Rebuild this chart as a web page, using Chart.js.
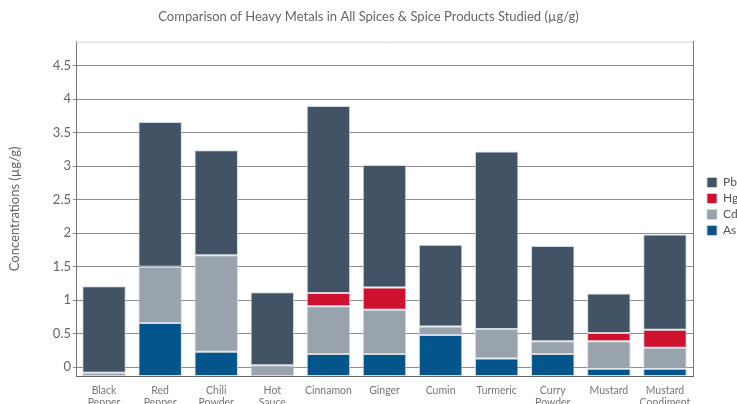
<!DOCTYPE html>
<html>
<head>
<meta charset="utf-8">
<script src="https://cdn.jsdelivr.net/npm/chart.js@4"></script>
<style>
  html, body { margin: 0; padding: 0; background: #fff; }
  canvas { display: block; }
</style>
</head>
<body>
<canvas id="metals-chart" width="737" height="404"></canvas>
<script>
(function () {
    'use strict';

    // categories along the x axis
    var categories = [['Black', 'Pepper'], ['Red', 'Pepper'], ['Chili', 'Powder'], ['Hot', 'Sauce'], 'Cinnamon', 'Ginger', 'Cumin', 'Turmeric', ['Curry', 'Powder'], 'Mustard', ['Mustard', 'Condiment']];

    // top of each band as read on the y axis (null = band absent)
    var asTop = [null, 0.66, 0.23, null, 0.20, 0.20, 0.48, 0.13, 0.20, -0.02, -0.02];
    var cdTop = [-0.08, 1.50, 1.67, 0.03, 0.91, 0.86, 0.61, 0.57, 0.39, 0.39, 0.29];
    var hgTop = [null, null, null, null, 1.11, 1.19, null, null, null, 0.51, 0.56];
    var pbTop = [1.21, 3.66, 3.24, 1.12, 3.90, 3.02, 1.83, 3.22, 1.81, 1.10, 1.98];

    var yTicks = [0, 0.5, 1, 1.5, 2, 2.5, 3, 3.5, 4, 4.5];
    var yFloor = -0.13;
    var yCeil = 4.86;

    var colors = { pb: '#415364', hg: '#cf1130', cd: '#98a3ae', as: '#03558b' };
    var font = 'Lato, "Open Sans", sans-serif';

    // turn stacked band tops into [start, end] ranges
    var layers = [asTop, cdTop, hgTop, pbTop];
    function ranges(layerIdx) {
        return categories.map(function (c, i) {
            var top = layers[layerIdx][i];
            if (top === null) { return null; }
            var start = yFloor;
            for (var k = layerIdx - 1; k >= 0; k--) {
                if (layers[k][i] !== null) { start = layers[k][i]; break; }
            }
            return [start, top];
        });
    }

    function band(label, idx, color) {
        return {
            label: label,
            data: ranges(idx),
            backgroundColor: color,
            borderColor: 'rgba(205,212,219,0.9)',
            borderWidth: 1,
            borderSkipped: false,
            grouped: false,
            categoryPercentage: 1,
            barPercentage: 0.775
        };
    }

    var framePlugin = {
        id: 'frame',
        beforeDatasetsDraw: function (chart) {
            var a = chart.chartArea, ctx = chart.ctx;
            ctx.save();
            ctx.strokeStyle = '#d2d2d2';
            ctx.lineWidth = 1;
            ctx.beginPath();
            ctx.moveTo(a.left, a.top + 0.5);
            ctx.lineTo(a.right, a.top + 0.5);
            ctx.stroke();
            ctx.restore();
        }
    };

    new Chart(document.getElementById('metals-chart'), {
        type: 'bar',
        data: {
            labels: categories,
            datasets: [
                band('As', 0, colors.as),
                band('Cd', 1, colors.cd),
                band('Hg', 2, colors.hg),
                band('Pb', 3, colors.pb)
            ]
        },
        options: {
            responsive: false,
            animation: false,
            layout: { padding: 0 },
            plugins: {
                title: {
                    display: true,
                    text: 'Comparison of Heavy Metals in All Spices & Spice Products Studied (µg/g)',
                    color: '#666',
                    font: { family: font, size: 13, weight: 'normal' },
                    padding: { top: 9, bottom: 17 }
                },
                legend: {
                    position: 'right',
                    reverse: true,
                    maxWidth: 34,
                    // empty title only nudges the items down a little
                    title: { display: true, text: '', font: { size: 5 }, padding: { top: 1.5, bottom: 1.5 } },
                    labels: {
                        boxWidth: 10,
                        boxHeight: 10,
                        padding: 4,
                        color: '#555',
                        font: { family: font, size: 12 }
                    }
                },
                tooltip: { enabled: false }
            },
            scales: {
                x: {
                    grid: { display: false, drawTicks: false },
                    border: { color: '#666' },
                    ticks: {
                        color: '#777',
                        font: { family: font, size: 10.5 },
                        padding: 8,
                        maxRotation: 0,
                        autoSkip: false
                    },
                    afterFit: function (s) { s.height = 28; }
                },
                y: {
                    min: yFloor,
                    max: yCeil,
                    afterBuildTicks: function (s) {
                        s.ticks = yTicks.map(function (v) { return { value: v }; });
                    },
                    grid: { color: '#8d8d8d', tickLength: 3 },
                    border: { color: '#777' },
                    ticks: {
                        color: '#666',
                        font: { family: font, size: 13 },
                        padding: 2,
                        callback: function (v) { return String(v); }
                    },
                    title: {
                        display: true,
                        text: 'Concentrations (µg/g)',
                        color: '#666',
                        font: { family: font, size: 13 },
                        padding: { top: 7, bottom: 0 }
                    },
                    afterFit: function (s) { s.width = 76; }
                },
                y2: {
                    position: 'right',
                    grid: { display: false },
                    ticks: { display: false },
                    border: { color: '#777' },
                    afterFit: function (s) { s.width = 10; }
                }
            }
        },
        plugins: [framePlugin]
    });
})();
</script>
</body>
</html>
